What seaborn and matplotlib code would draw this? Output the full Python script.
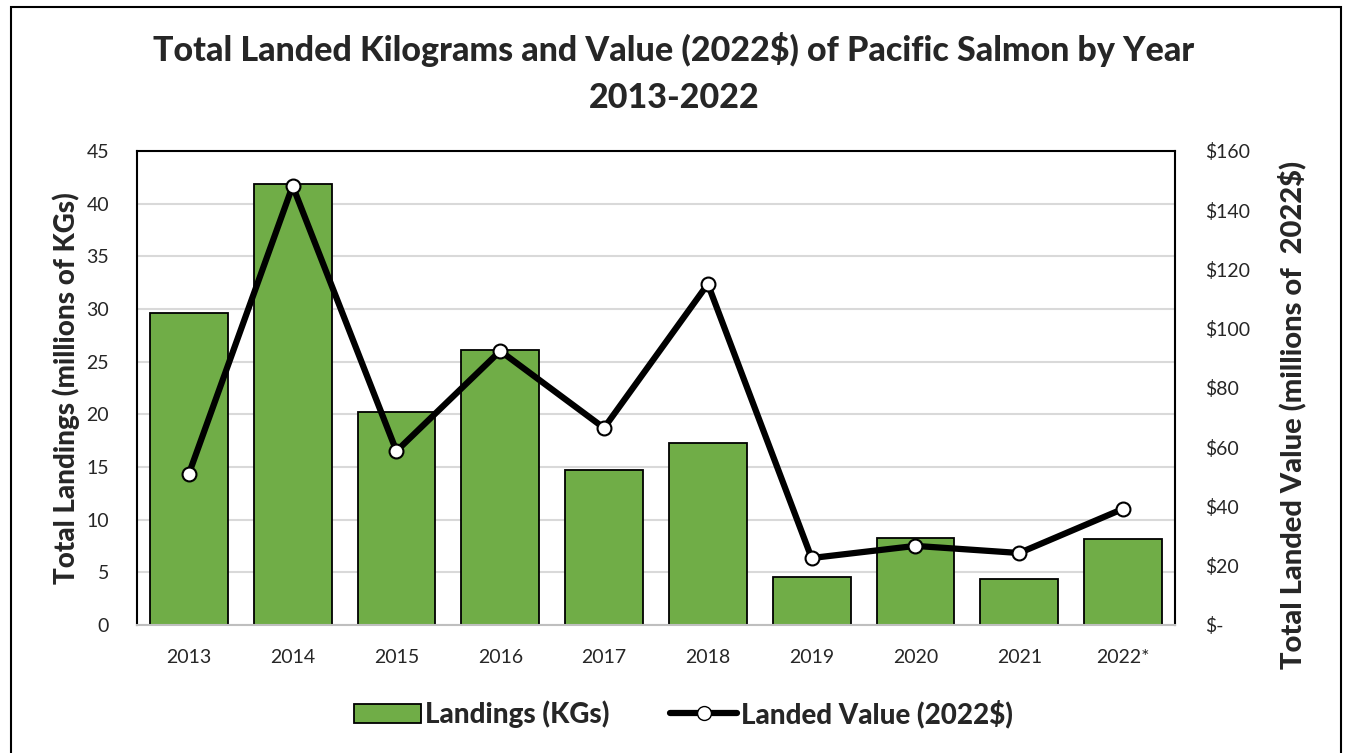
import numpy as np
import pandas as pd
import matplotlib
matplotlib.use("Agg")
import matplotlib.pyplot as plt
import seaborn as sns
from matplotlib.patches import Rectangle
from matplotlib.lines import Line2D
from matplotlib.patches import Patch

years = ["2013", "2014", "2015", "2016", "2017", "2018", "2019", "2020", "2021", "2022*"]
landings_kg = [29.6, 41.9, 20.2, 26.1, 14.7, 17.3, 4.6, 8.3, 4.4, 8.2]
landed_value = [51.0, 148.2, 58.7, 92.5, 66.5, 115.1, 22.6, 26.7, 24.3, 39.2]

df = pd.DataFrame({"Year": years, "Landings": landings_kg, "Value": landed_value})

sns.set_style("white")
plt.rcParams["font.family"] = ["Lato", "DejaVu Sans"]

green = "#70AD47"
heavy = 900

fig = plt.figure(figsize=(13.48, 7.53), dpi=100)
ax = fig.add_axes([0.1016, 0.170, 0.770, 0.6295])

sns.barplot(data=df, x="Year", y="Landings", color=green, width=0.75,
            edgecolor="black", linewidth=1.3, saturation=1, ax=ax, zorder=2)
ax.set_ylim(0, 45)
ax.set_yticks(np.arange(0, 46, 5))
ax.set_xlim(-0.5, len(years) - 0.5)
ax.yaxis.grid(True, color="#D9D9D9", linewidth=1.5, zorder=0)
ax.set_axisbelow(True)
ax.set_xlabel("")
ax.set_ylabel("Total Landings (millions of KGs)", fontsize=20, fontweight=heavy)
ax.yaxis.set_label_coords(-0.055, 0.5)
ax.tick_params(axis="y", labelsize=14, length=0, pad=20)
ax.tick_params(axis="x", labelsize=14, length=0, pad=17)
for s in ["left", "top", "right"]:
    ax.spines[s].set_color("black")
    ax.spines[s].set_linewidth(1.5)
ax.spines["bottom"].set_color("#BFBFBF")
ax.spines["bottom"].set_linewidth(1.5)
# category boundary ticks
ax.set_xticks(np.arange(-0.5, len(years), 1), minor=True)
ax.tick_params(axis="x", which="minor", length=6, color="#BFBFBF", width=1.3)

ax2 = ax.twinx()
sns.lineplot(x=np.arange(len(years)), y=df["Value"], color="black", linewidth=4.5,
             marker="o", markersize=10, markerfacecolor="white",
             markeredgecolor="black", markeredgewidth=1.5, ax=ax2, zorder=3)
ax2.set_ylim(0, 160)
ax2.set_yticks(np.arange(0, 161, 20))
ax2.set_yticklabels(["$-"] + [f"${v}" for v in range(20, 161, 20)])
ax2.set_ylabel("Total Landed Value (millions of  2022$)", fontsize=21, fontweight=heavy)
ax2.yaxis.set_label_coords(1.099, 0.443)
ax2.tick_params(axis="y", labelsize=14, length=0, pad=22)
ax2.set_xlim(-0.5, len(years) - 0.5)
for s in ax2.spines.values():
    s.set_visible(False)

fig.text(0.5, 1 - 73 / 753,
         "Total Landed Kilograms and Value (2022$) of Pacific Salmon by Year\n2013-2022",
         ha="center", va="center", fontsize=24.5, fontweight=heavy, linespacing=1.6)

handles = [
    Patch(facecolor=green, edgecolor="black", linewidth=1.3),
    Line2D([0], [0], color="black", linewidth=4.5, marker="o", markersize=10,
           markerfacecolor="white", markeredgecolor="black"),
]
fig.legend(handles, ["Landings (KGs)", "Landed Value (2022$)"], loc="center",
           bbox_to_anchor=(0.507, 0.052), ncol=2, frameon=False,
           prop={"size": 20, "weight": heavy}, handlelength=2.4,
           handletextpad=0.15, columnspacing=2.2)

fig.add_artist(Rectangle((11 / 1348, -0.1), 1330 / 1348, 1.1 - 7 / 753,
                         transform=fig.transFigure, fill=False,
                         edgecolor="black", linewidth=1.5))

fig.savefig("out.png", dpi=100)
